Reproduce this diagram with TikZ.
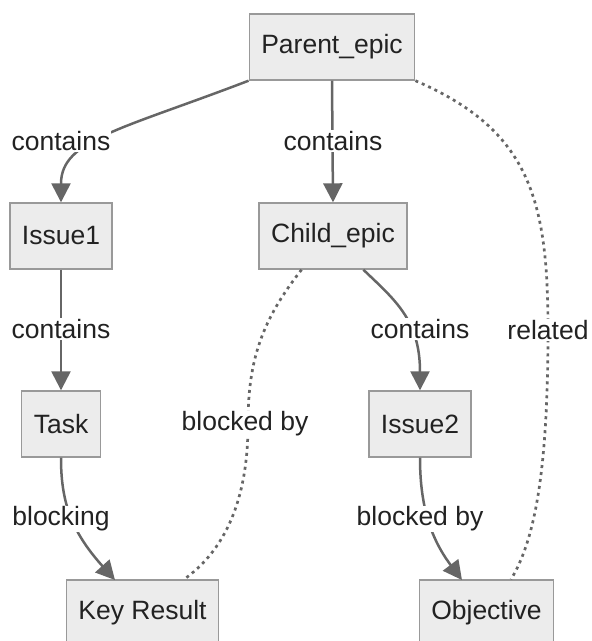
\documentclass[tikz,border=0pt]{standalone}
\usepackage{fontspec}
\setmainfont{Liberation Sans}
\usepackage{xcolor}
\usepackage{tikz}
\usetikzlibrary{arrows.meta}
\definecolor{boxfill}{HTML}{ECECEC}
\definecolor{boxline}{HTML}{999999}
\definecolor{edge}{HTML}{666666}
\definecolor{ink}{HTML}{222222}
\tikzset{
  item/.style={draw=boxline, fill=boxfill, line width=1.4pt, inner xsep=12pt,
    minimum height=66pt, text=ink, font=\fontsize{26.5}{30}\selectfont},
  link/.style={draw=edge, line width=2.5pt, -{Triangle[length=19pt,width=19pt]}},
  dotlink/.style={draw=edge, line width=2.7pt, dash pattern=on 3pt off 4pt},
  elabel/.style={fill=white, inner sep=1pt, text=ink, font=\fontsize{26.5}{30}\selectfont}
}
\begin{document}
\begin{tikzpicture}[x=1pt,y=1pt]
  \useasboundingbox (0,0) rectangle (592,-641);
  \clip (0,0) rectangle (592,-641);

  \node[item] (parent) at (332,-47) {Parent\_epic};
  \node[item] (issue1) at (61,-236) {Issue1};
  \node[item] (child) at (333,-236) {Child\_epic};
  \node[item] (task) at (61,-424) {Task};
  \node[item] (issue2) at (420,-424) {Issue2};
  \node[item] (keyres) at (142.5,-613) {Key Result};
  \node[item] (objective) at (486.5,-613) {Objective};

  % edges
  \draw[link] (parent.south west) .. controls (120,-130) and (61,-140) .. (issue1.north);
  \draw[link] (parent.south) -- (child.north);
  \draw[dotlink] (parent.south east) .. controls (530,-130) and (548,-200) .. (548,-330)
    .. controls (548,-470) and (535,-540) .. (objective.54);
  \draw[link] (issue1.south) -- (task.north);
  \draw[link] (child.-48) .. controls (395,-300) and (420,-320) .. (issue2.north);
  \draw[dotlink] (child.-133) .. controls (262,-320) and (248,-360) .. (248,-424)
    .. controls (248,-500) and (225,-550) .. (keyres.39);
  \draw[link] (task.south) .. controls (61,-500) and (70,-530) .. (115,-580);
  \draw[link] (issue2.south) .. controls (420,-500) and (428,-535) .. (462,-580);

  % edge labels
  \node[elabel] (l1) at (61,-141) {contains};
  \node[elabel] (l2) at (333,-141) {contains};
  \node[elabel] (l3) at (548,-330) {related};
  \node[elabel] (l4) at (61,-329) {contains};
  \node[elabel] (l5) at (420,-329) {contains};
  \node[elabel] (l6) at (245,-424) {blocked by};
  \node[elabel] (l7) at (61,-519) {blocking};
  \node[elabel] (l8) at (420,-519) {blocked by};
\end{tikzpicture}
\end{document}
